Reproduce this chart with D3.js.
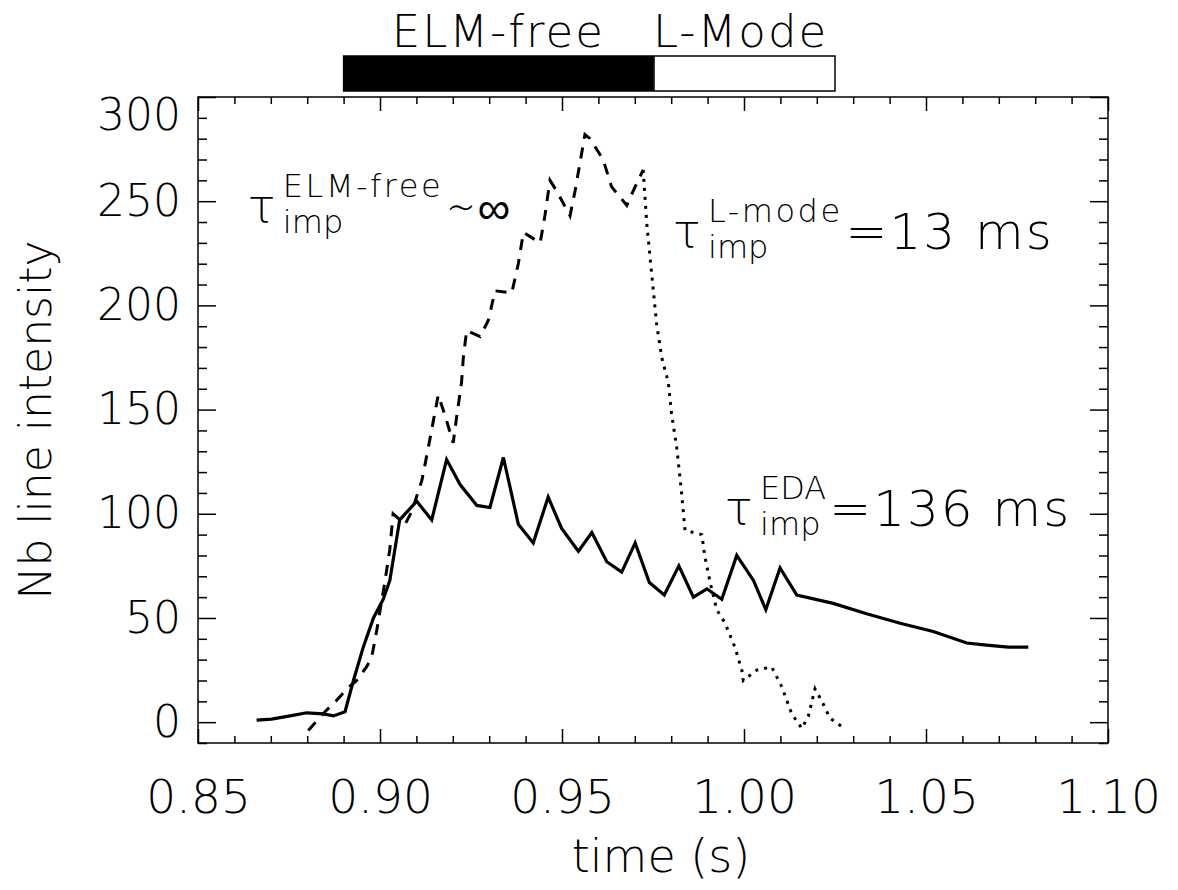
<!DOCTYPE html>
<html>
<head>
<meta charset="utf-8">
<script src="https://cdn.jsdelivr.net/npm/d3@7"></script>
<style>
  html, body { margin: 0; padding: 0; background: #fff; overflow: hidden; }
  svg { display: block; }
  text { font-family: "DejaVu Sans", Arial, sans-serif; font-weight: 200; fill: #000; }
</style>
</head>
<body>
<div id="my_dataviz"></div>
<script>
// EDA (solid)
const edaTime = [0.8661,0.8702,0.8753,0.8799,0.8844,0.8872,0.8904,0.8927,0.8954,0.8982,0.9009,0.9027,0.9054,0.9064,
  0.9101,0.9142,0.9183,0.9220,0.9266,0.9302,0.9339,0.9380,0.9421,0.9462,0.9499,0.9545,0.9582,0.9623,0.9664,0.9701,
  0.9740,0.9781,0.9821,0.9861,0.9898,0.9939,0.9980,1.0026,1.0060,1.0099,1.0145,1.0245,1.0337,1.0429,1.0520,1.0612,
  1.0666,1.0726,1.0781];
const edaInt = [1,1.5,3,4.5,4,3,5,20,36,50,59,68,97,99,
  106,97,126,114,104,103,127,95,86,108,93,82,91,77,72,86,
  67,61,75,60,64,59,80,68,54,74,61,57,52,47.5,43.5,38,
  37,36,36];

// ELM-free (dashed)
const elmTime = [0.8803,0.8849,0.8881,0.8909,0.8936,0.8963,0.8977,0.8991,0.9014,0.9027,0.9036,0.9069,0.9087,0.9115,
  0.9133,0.9160,0.9179,0.9201,0.9211,0.9224,0.9229,0.9238,0.9275,0.9298,0.9316,0.9362,0.9380,0.9394,0.9440,0.9453,
  0.9467,0.9485,0.9522,0.9536,0.9549,0.9563,0.9577,0.9613,0.9636,0.9678,0.9701,0.9723];
const elmInt = [-4,5,10.5,16,20,26.5,31,44,68,83,100,95,101,116,
  132,157,147,134,147,163,175,188,185,193,207,206,220,235,230,243,
  260,255,243,255,268,282,280,270,257,248,257,265];

// L-mode (dotted)
const lmodeTime = [0.9723,0.9733,0.9742,0.9751,0.9760,0.9774,0.9792,0.9801,0.9815,0.9828,0.9838,0.9861,0.9884,0.9893,
  0.9907,0.9925,0.9948,0.9975,0.9994,0.9998,1.0035,1.0076,1.0104,1.0131,1.0159,1.0177,1.0195,1.0214,1.0236,1.0268];
const lmodeInt = [265,239,223,207,191,175,163,148,132,111,92,91,90,79,
  67,54,47.5,36,25,20,25,26.5,17,4,-3,3,16,10,2,-2];

// phase bar
const phaseNames = ["ELM-free", "L-Mode"];
const phaseStart = [0.890, 0.975];
const phaseEnd = [0.975, 1.025];

// ticks
const xMajor = [0.85, 0.90, 0.95, 1.00, 1.05, 1.10];
const xMinor = d3.range(86, 110).filter(d => d % 5 !== 0).map(d => d / 100);
const yMajor = [0, 50, 100, 150, 200, 250, 300];
const yMinor = d3.range(-10, 300, 10).filter(d => d % 50 !== 0);

// Constant
const width = 1178;
const height = 890;
const margin = {top: 97, right: 70, bottom: 147, left: 198};
const innerWidth = width - margin.left - margin.right;
const innerHeight = height - margin.top - margin.bottom;

const xScale = d3.scaleLinear().domain([0.85, 1.10]).range([margin.left, margin.left + innerWidth]);
const yScale = d3.scaleLinear().domain([-10, 300]).range([margin.top + innerHeight, margin.top]);

const svg = d3.select('#my_dataviz')
  .append('svg')
    .attr('width', width)
    .attr('height', height);

// frame
svg.append('rect')
  .attr('x', margin.left)
  .attr('y', margin.top)
  .attr('width', innerWidth)
  .attr('height', innerHeight)
  .attr('fill', 'none')
  .attr('stroke', '#000')
  .attr('stroke-width', 1.5);

const xTick = 14, yTick = 18;

const bottom = svg.append('g')
  .attr('transform', `translate(0,${margin.top + innerHeight})`)
  .call(d3.axisBottom(xScale).tickValues(xMajor).tickSizeInner(-xTick).tickSizeOuter(0)
    .tickPadding(37).tickFormat(d3.format('.2f')));
svg.append('g')
  .attr('transform', `translate(0,${margin.top + innerHeight})`)
  .call(d3.axisBottom(xScale).tickValues(xMinor).tickSize(-xTick / 2).tickFormat(''));
svg.append('g')
  .attr('transform', `translate(0,${margin.top})`)
  .call(d3.axisTop(xScale).tickValues(xMajor).tickSize(-xTick).tickFormat(''));
svg.append('g')
  .attr('transform', `translate(0,${margin.top})`)
  .call(d3.axisTop(xScale).tickValues(xMinor).tickSize(-xTick / 2).tickFormat(''));

const left = svg.append('g')
  .attr('transform', `translate(${margin.left},0)`)
  .call(d3.axisLeft(yScale).tickValues(yMajor).tickSizeInner(-yTick).tickSizeOuter(0).tickPadding(17));
svg.append('g')
  .attr('transform', `translate(${margin.left},0)`)
  .call(d3.axisLeft(yScale).tickValues(yMinor).tickSize(-yTick / 2).tickFormat(''));
svg.append('g')
  .attr('transform', `translate(${margin.left + innerWidth},0)`)
  .call(d3.axisRight(yScale).tickValues(yMajor).tickSize(-yTick).tickFormat(''));
svg.append('g')
  .attr('transform', `translate(${margin.left + innerWidth},0)`)
  .call(d3.axisRight(yScale).tickValues(yMinor).tickSize(-yTick / 2).tickFormat(''));

svg.selectAll('.domain').remove();
svg.selectAll('.tick line').attr('stroke', '#000').attr('stroke-width', 1.5);

bottom.selectAll('text')
  .style('font-size', '47px')
  .style('font-family', '"DejaVu Sans", sans-serif')
  .attr('fill', '#000');
left.selectAll('text')
  .style('font-size', '44px')
  .style('font-family', '"DejaVu Sans", sans-serif')
  .attr('fill', '#000');
// keep the top label inside the frame, like the original
left.selectAll('.tick')
  .filter(d => d === 300)
  .select('text')
  .attr('y', 18);

// axis titles
svg.append('text')
  .attr('x', margin.left + innerWidth / 2 + 8)
  .attr('y', 872)
  .attr('text-anchor', 'middle')
  .style('font-size', '46px')
  .text('time (s)');

svg.append('text')
  .attr('transform', `translate(51,${margin.top + innerHeight / 2}) rotate(-90)`)
  .attr('text-anchor', 'middle')
  .style('font-size', '44px')
  .text('Nb line intensity');

// phase bar on top
svg.selectAll('.phase')
  .data(phaseNames)
  .join('rect')
    .attr('class', 'phase')
    .attr('x', (d, i) => xScale(phaseStart[i]) + (i ? 1 : 0))
    .attr('y', 56)
    .attr('width', (d, i) => xScale(phaseEnd[i]) - xScale(phaseStart[i]) - (i ? 1 : 0))
    .attr('height', 35)
    .attr('fill', (d, i) => i ? '#fff' : '#000')
    .attr('stroke', '#000')
    .attr('stroke-width', 1.5);

svg.append('text')
  .attr('x', xScale(phaseEnd[0]) - 48)
  .attr('y', 47)
  .attr('text-anchor', 'end')
  .style('font-size', '45px')
  .style('letter-spacing', '2px')
  .text(phaseNames[0]);
svg.append('text')
  .attr('x', xScale(phaseStart[1]))
  .attr('y', 47)
  .style('font-size', '45px')
  .style('letter-spacing', '2px')
  .text(phaseNames[1]);

// curves
const line = d3.line()
  .x(d => xScale(d[0]))
  .y(d => yScale(d[1]));

svg.append('path')
  .datum(d3.zip(edaTime, edaInt))
  .attr('d', line)
  .attr('fill', 'none')
  .attr('stroke', '#000')
  .attr('stroke-width', 3.2)
  .attr('stroke-linejoin', 'miter');

svg.append('path')
  .datum(d3.zip(elmTime, elmInt))
  .attr('d', line)
  .attr('fill', 'none')
  .attr('stroke', '#000')
  .attr('stroke-width', 3)
  .attr('stroke-dasharray', '11,9');

svg.append('path')
  .datum(d3.zip(lmodeTime, lmodeInt))
  .attr('d', line)
  .attr('fill', 'none')
  .attr('stroke', '#000')
  .attr('stroke-width', 3)
  .attr('stroke-dasharray', '3,6');

// tau annotations
const tauLabel = (t, v, sup, supSpacing, rest, restSize, restFamily) => {
  const x0 = xScale(t), y0 = yScale(v);
  svg.append('text').attr('x', x0).attr('y', y0).style('font-size', '46px').text('τ');
  const s = svg.append('text').attr('x', x0 + 35).attr('y', y0 - 25)
    .style('font-size', '32px').style('letter-spacing', supSpacing).text(sup);
  svg.append('text').attr('x', x0 + 35).attr('y', y0 + 11).style('font-size', '32px').text('imp');
  svg.append('text')
    .attr('x', x0 + 35 + s.node().getComputedTextLength() + 3)
    .attr('y', y0 + 2)
    .style('font-size', restSize)
    .style('font-family', restFamily)
    .style('letter-spacing', '2px')
    .text(rest);
};

tauLabel(0.8637, 240, 'ELM-free', '2.5px', '∼∞', '46px', '"DejaVu Sans", "Liberation Sans", sans-serif');
tauLabel(0.9805, 228, 'L-mode', '2.5px', '=13 ms', '50px', '"DejaVu Sans", sans-serif');
tauLabel(0.9948, 95, 'EDA', '0px', '=136 ms', '50px', '"DejaVu Sans", sans-serif');
</script>
</body>
</html>
